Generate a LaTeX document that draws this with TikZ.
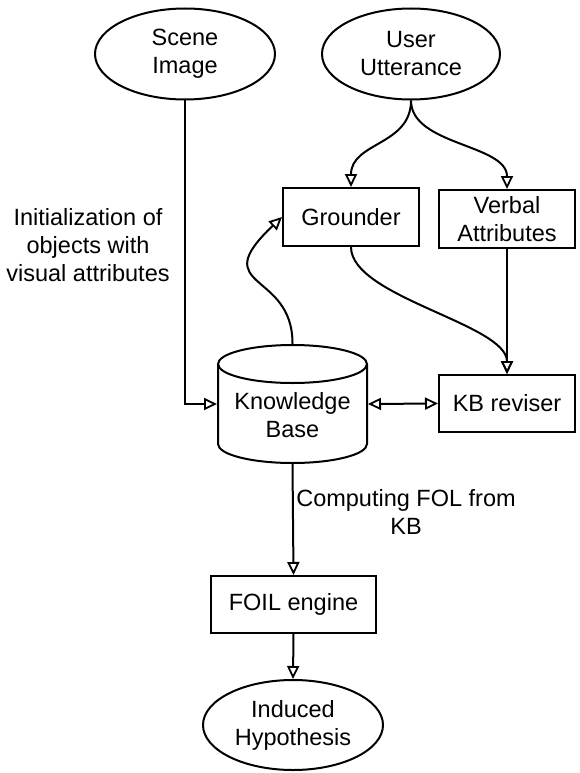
\documentclass[tikz,border=0pt]{standalone}
\usepackage{fontspec}
\setmainfont{Liberation Sans}
\usetikzlibrary{arrows.meta,shapes.geometric}
\begin{document}
\begin{tikzpicture}[x=1pt,y=-1pt,line width=2pt,
  every node/.style={font=\fontsize{23.5}{28}\selectfont, align=center, inner sep=0pt},
  oval/.style={draw, ellipse, minimum width=180pt, minimum height=91pt},
  box/.style={draw, rectangle, minimum width=136pt, minimum height=58pt},
  arr/.style={-{Triangle[open,length=13pt,width=12pt,line width=1.8pt]}},
  darr/.style={{Triangle[open,length=13pt,width=12pt,line width=1.8pt]}-{Triangle[open,length=13pt,width=12pt,line width=1.8pt]}}]
\useasboundingbox (0,0) rectangle (579,773);
% nodes
\node[oval] (scene) at (185,54) {Scene\\Image};
\node[oval, minimum width=178pt] (user) at (411,54) {User\\Utterance};
\node[box] (grounder) at (351,217) {Grounder};
\node[box] (verbal) at (507,219) {Verbal\\Attributes};
\node[box, minimum height=57pt] (kbr) at (507,403.5) {KB reviser};
\node[box, minimum width=165pt, minimum height=57pt] (foil) at (293.5,604.5) {FOIL engine};
\node[oval, minimum height=90pt] (ih) at (293,725) {Induced\\Hypothesis};
% cylinder
\node[minimum width=149pt, minimum height=118pt] (kb) at (292.5,404) {};
\draw (218,364) -- (218,444) arc[start angle=180, end angle=360, x radius=74.5, y radius=-19] -- (367,364);
\draw (292.5,364) ellipse[x radius=74.5, y radius=19];
\node at (292.5,415) {Knowledge\\Base};
% connectors
\draw[arr] (user.south) .. controls +(0,45) and +(0,-45) .. (grounder.north);
\draw[arr] (user.south) .. controls +(0,45) and +(0,-45) .. (verbal.north);
\draw[arr] (scene.south) |- (kb.west);
\draw[arr] (kb.north) .. controls (293,270) and (205,290) .. (grounder.west);
\draw[arr] (grounder.south) .. controls +(0,50) and +(0,-50) .. (kbr.north);
\draw[arr] (verbal.south) -- (kbr.north);
\draw[darr] (kb.east) -- (kbr.west);
\draw[arr] (kb.south) -- (foil.north);
\draw[arr] (foil.south) -- (ih.north);
% labels
\node at (88,245) {Initialization of\\objects with\\visual attributes};
\node at (406,511.5) {Computing FOL from\\KB};
\end{tikzpicture}
\end{document}
